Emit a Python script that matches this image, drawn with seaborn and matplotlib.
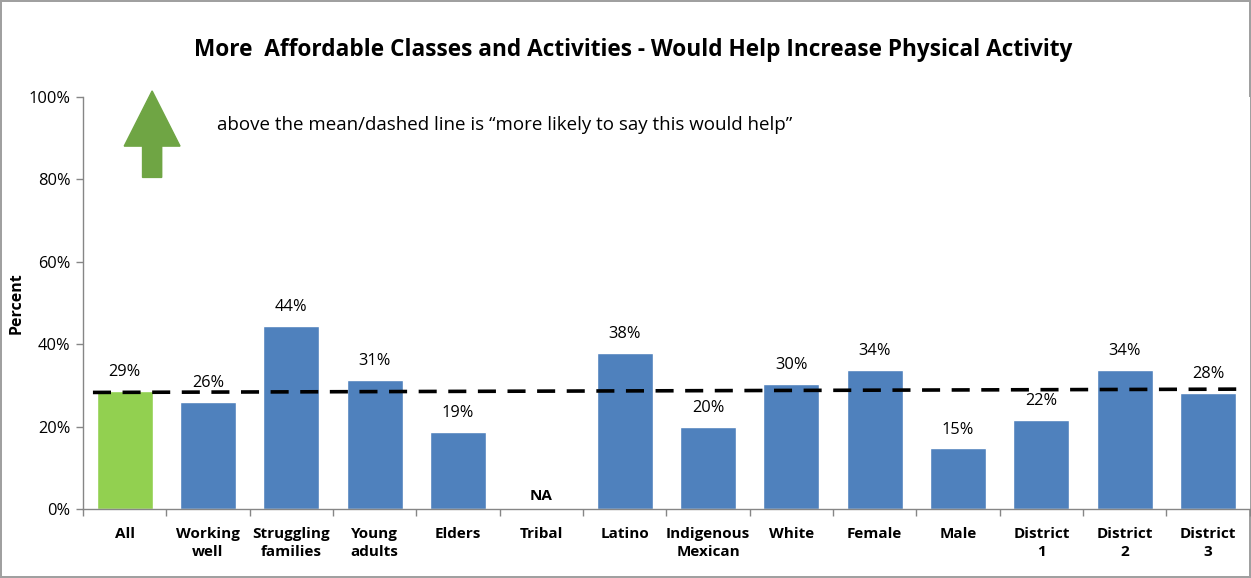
import numpy as np
import seaborn as sns
import matplotlib.pyplot as plt
from matplotlib.ticker import FixedLocator, PercentFormatter

# Data
categories = ['All', 'Working\nwell', 'Struggling\nfamilies', 'Young\nadults', 'Elders', 'Tribal',
              'Latino', 'Indigenous\nMexican', 'White', 'Female', 'Male', 'District\n1',
              'District\n2', 'District\n3']
percent = [28.6, 26.0, 44.4, 31.4, 18.7, np.nan, 37.9, 19.9, 30.3, 33.7, 14.7, 21.6, 33.7, 28.2]
mean_line = [28.3, 29.1]   # dashed mean line, left end / right end

bar_colors = ['#92D050'] + ['#4F81BD'] * (len(categories) - 1)

sns.set_style('white')
plt.rcParams['font.family'] = ['Open Sans', 'DejaVu Sans']
plt.rcParams.update({'text.color': 'black', 'axes.labelcolor': 'black',
                     'xtick.color': 'black', 'ytick.color': 'black'})

fig = plt.figure(figsize=(12.51, 5.78), dpi=100)
ax = fig.add_axes([0.0663, 0.1194, 0.9327, 0.7126])

sns.barplot(x=categories, y=[0 if np.isnan(v) else v for v in percent], hue=categories,
            palette=bar_colors, legend=False, width=0.67, ax=ax, saturation=1)

# value labels
for i, v in enumerate(percent):
    if np.isnan(v):
        ax.text(i, 1.5, 'NA', ha='center', va='bottom', fontsize=11, fontweight='bold')
    else:
        ax.text(i, v + 2.6, f'{v:.0f}%', ha='center', va='bottom', fontsize=11.8)

# mean / dashed line
ax.plot([-0.38, len(categories) - 1 + 0.38], mean_line, color='black', lw=2.6,
        dashes=(5, 3.2), zorder=5)

ax.set_xlim(-0.5, len(categories) - 0.5)
ax.set_ylim(0, 100)
ax.yaxis.set_major_locator(FixedLocator([0, 20, 40, 60, 80, 100]))
ax.yaxis.set_major_formatter(PercentFormatter(decimals=0))
ax.tick_params(axis='y', which='major', length=5, color='#868686', width=1, labelsize=11.8,
               left=True, pad=4)
for lbl in ax.get_yticklabels():
    lbl.set_color('black')

ax.set_xticks(range(len(categories)))
ax.set_xticklabels(categories, fontweight='bold', fontsize=11, linespacing=1.35, color='black')
ax.xaxis.set_minor_locator(FixedLocator(np.arange(-0.5, len(categories), 1.0)))
ax.tick_params(axis='x', which='major', length=0, pad=13)
ax.tick_params(axis='x', which='minor', length=5, color='#868686', width=1, bottom=True)

for side in ['top', 'right']:
    ax.spines[side].set_visible(False)
for side in ['left', 'bottom']:
    ax.spines[side].set_color('#868686')
    ax.spines[side].set_linewidth(1)

ax.set_xlabel('')
ax.set_ylabel('Percent', fontweight='bold', fontsize=11.5, labelpad=3)

# green arrow + note
ax.arrow(0.33, 80.5, 0, 21, width=0.23, head_width=0.67, head_length=13.4,
         length_includes_head=True, color='#6FA544', clip_on=False, zorder=6)
ax.text(1.11, 93.2, 'above the mean/dashed line is \u201cmore likely to say this would help\u201d',
        fontsize=13.5, va='center', ha='left')

fig.suptitle('More  Affordable Classes and Activities - Would Help Increase Physical Activity',
             x=0.506, y=0.935, fontsize=16.3, fontweight='bold')

fig.patch.set_edgecolor('#A0A0A0')
fig.patch.set_linewidth(1.5)

fig.savefig('out.png', dpi=100, edgecolor=fig.get_edgecolor())
